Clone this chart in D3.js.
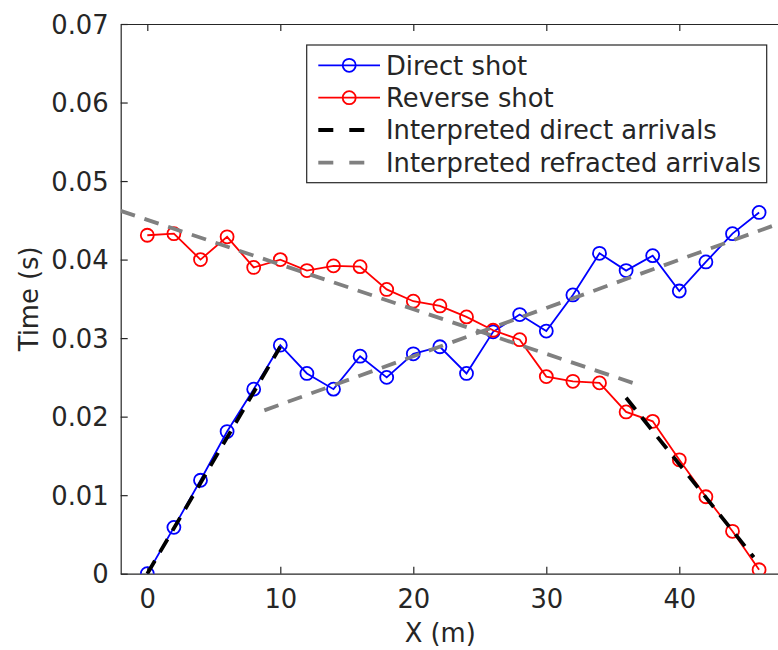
<!DOCTYPE html>
<html><head><meta charset="utf-8">
<script src="https://cdn.jsdelivr.net/npm/d3@7"></script>
<style>body{margin:0;background:#fff} svg{display:block} text{font-family:"DejaVu Sans",sans-serif;fill:#262626}</style>
</head><body><svg id="c" width="778" height="650"></svg>
<script>
// ---------- data ----------
const xPos = [0,2,4,6,8,10,12,14,16,18,20,22,24,26,28,30,32,34,36,38,40,42,44,46];
const directShot = [0,0.0059,0.0119,0.0181,0.0235,0.0291,0.0255,0.0235,0.0277,0.0250,0.0280,0.0289,0.0255,0.0308,0.0330,0.0309,0.0355,0.0408,0.0386,0.0405,0.0360,0.0397,0.0433,0.0460];
const reverseShot = [0.0431,0.0433,0.0400,0.0429,0.0390,0.0400,0.0386,0.0392,0.0391,0.0362,0.0347,0.0341,0.0327,0.0310,0.0298,0.0251,0.0245,0.0243,0.0206,0.0194,0.0145,0.0098,0.0054,0.0005];
const directFitA_X = [0,10],      directFitA_T = [0,0.0289];
const directFitB_X = [36,45.6],   directFitB_T = [0.0224,0.0021];
const refrFitA_X = [-2,36.5],     refrFitA_T = [0.0462,0.0243];
const refrFitB_X = [8.8,48],      refrFitB_T = [0.0208,0.0449];
const xTicks = [0,10,20,30,40];
const yTicks = [0,0.01,0.02,0.03,0.04,0.05,0.06,0.07];
const legendLabels = ["Direct shot","Reverse shot","Interpreted direct arrivals","Interpreted refracted arrivals"];

// ---------- layout ----------
const svg = d3.select("#c");
const L = 120.7, R = 785.7, T = 24, B = 573.7;
const x = d3.scaleLinear().domain([-2,48]).range([L,R]);
const y = d3.scaleLinear().domain([0,0.07]).range([B,T]);
const ax = "#262626", FS = 25.8;

svg.append("defs").append("clipPath").attr("id","clip")
  .append("rect").attr("x",L).attr("y",T).attr("width",R-L).attr("height",B-T);

// axes
const gx = svg.append("g").attr("transform",`translate(0,${B})`)
  .call(d3.axisBottom(x).tickValues(xTicks).tickFormat(d3.format("d")).tickSizeInner(-7).tickSizeOuter(0).tickPadding(16));
const gxt = svg.append("g").attr("transform",`translate(0,${T})`)
  .call(d3.axisTop(x).tickValues(xTicks).tickFormat("").tickSizeInner(-7).tickSizeOuter(0));
const gy = svg.append("g").attr("transform",`translate(${L},0)`)
  .call(d3.axisLeft(y).tickValues(yTicks).tickFormat(d => d===0?"0":d3.format(".2f")(d)).tickSizeInner(-7).tickSizeOuter(0).tickPadding(12));
[gx,gxt,gy].forEach(g=>{
  g.selectAll("path").attr("stroke",ax).attr("stroke-width",1.2);
  g.selectAll("line").attr("stroke",ax).attr("stroke-width",1.2);
  g.selectAll("text").attr("font-size",FS).attr("fill",ax).attr("font-family","DejaVu Sans");
});
gy.selectAll("text").attr("dy","0.36em");
svg.append("line").attr("x1",R).attr("x2",R).attr("y1",T).attr("y2",B).attr("stroke",ax);

// axis labels
svg.append("text").attr("x",(L+R)/2 - 13).attr("y",642).attr("text-anchor","middle").attr("font-size",FS).text("X (m)");
svg.append("text").attr("transform",`translate(38,${(T+B)/2}) rotate(-90)`).attr("text-anchor","middle").attr("font-size",FS).text("Time (s)");

const plot = svg.append("g").attr("clip-path","url(#clip)");
const line = d3.line().x(d=>x(d[0])).y(d=>y(d[1]));

function series(vals, color){
  const pts = xPos.map((v,i)=>[v,vals[i]]);
  plot.append("path").attr("d",line(pts)).attr("fill","none").attr("stroke",color).attr("stroke-width",1.8);
  plot.selectAll(null).data(pts).enter().append("circle")
    .attr("cx",d=>x(d[0])).attr("cy",d=>y(d[1])).attr("r",6.5)
    .attr("fill","none").attr("stroke",color).attr("stroke-width",1.8);
}
series(directShot,"#0000ff");
series(reverseShot,"#ff0000");

function dashed(xs,ts,color){
  plot.append("path").attr("d",line(xs.map((v,i)=>[v,ts[i]])))
    .attr("fill","none").attr("stroke",color).attr("stroke-width",3.8).attr("stroke-dasharray","15 10");
}
dashed(directFitA_X,directFitA_T,"#000000");
dashed(directFitB_X,directFitB_T,"#000000");
dashed(refrFitA_X,refrFitA_T,"#808080");
dashed(refrFitB_X,refrFitB_T,"#808080");

// legend
const lg = svg.append("g");
lg.append("rect").attr("x",306.7).attr("y",45).attr("width",460).attr("height",137.7)
  .attr("fill","#fff").attr("stroke",ax).attr("stroke-width",1.2);
const rows = [65.3,97.7,130,162.7];
const lcol = ["#0000ff","#ff0000","#000000","#808080"];
legendLabels.forEach((lab,i)=>{
  const yy = rows[i];
  if(i<2){
    lg.append("line").attr("x1",318.3).attr("x2",380).attr("y1",yy).attr("y2",yy).attr("stroke",lcol[i]).attr("stroke-width",1.8);
    lg.append("circle").attr("cx",349.2).attr("cy",yy).attr("r",6.5).attr("fill","none").attr("stroke",lcol[i]).attr("stroke-width",1.8);
  } else {
    lg.append("line").attr("x1",318.3).attr("x2",380).attr("y1",yy).attr("y2",yy).attr("stroke",lcol[i]).attr("stroke-width",3.8).attr("stroke-dasharray","15 16");
  }
  lg.append("text").attr("x",386).attr("y",yy).attr("dy","0.36em").attr("font-size",FS).text(lab);
});
</script></body></html>
